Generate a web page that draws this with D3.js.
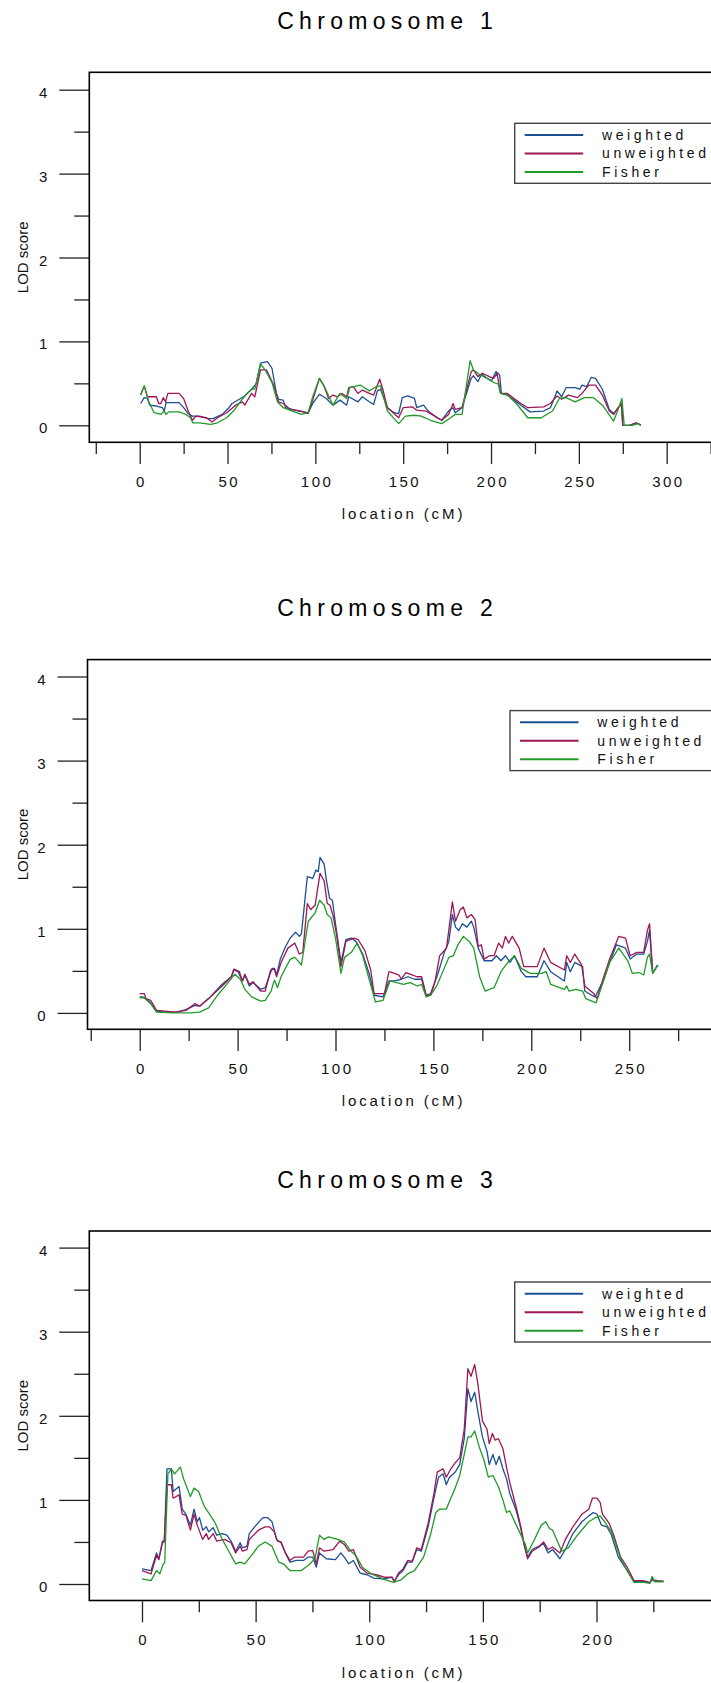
<!DOCTYPE html>
<html>
<head>
<meta charset="utf-8">
<script src="https://cdn.jsdelivr.net/npm/d3@7"></script>
<style>
  html, body { margin: 0; padding: 0; background: #fff; }
  svg { display: block; }
</style>
</head>
<body>
<svg id="chart" width="711" height="1683"></svg>
<script>
// ---------------- DATA ----------------
const seriesNames = ["weighted", "unweighted", "Fisher"];
const chromosomeTitles = ["Chromosome 1", "Chromosome 2", "Chromosome 3"];
const yMajorTicks = [0, 1, 2, 3, 4];
const yMinorTicks = [0.5, 1.5, 2.5, 3.5];
const xMajorTicks1 = [0, 50, 100, 150, 200, 250, 300];
const xMinorTicks1 = [-25, 25, 75, 125, 175, 225, 275, 325];
const xMajorTicks2 = [0, 50, 100, 150, 200, 250];
const xMinorTicks2 = [-25, 25, 75, 125, 175, 225, 275];
const xMajorTicks3 = [0, 50, 100, 150, 200];
const xMinorTicks3 = [25, 75, 125, 175, 225];

// [location cM, LOD]
const chr1Weighted = [[0.5,0.26],[2.6,0.33],[4.4,0.32],[5.7,0.24],[9.5,0.23],[12.9,0.21],[14,0.17],[15,0.27],[22.4,0.27],[25,0.21],[27.6,0.14],[30,0.11],[34,0.11],[39,0.08],[41.7,0.08],[47,0.13],[50.8,0.21],[52.6,0.26],[56.7,0.31],[59.8,0.35],[63.7,0.43],[66.2,0.49],[68.8,0.74],[72.7,0.76],[75.3,0.68],[77.8,0.38],[79.1,0.31],[81.7,0.30],[83,0.21],[90.7,0.17],[95.9,0.15],[98.5,0.26],[102.3,0.37],[106.2,0.32],[110,0.24],[114,0.30],[117.8,0.24],[119,0.34],[124.2,0.28],[126.8,0.34],[130.7,0.28],[133.2,0.25],[135.3,0.41],[137.1,0.43],[141,0.21],[144.8,0.15],[147.4,0.14],[149.5,0.33],[152.6,0.35],[156.4,0.32],[157.7,0.21],[161.6,0.24],[164.2,0.17],[169.3,0.09],[171.9,0.06],[175.8,0.17],[178.4,0.21],[179.6,0.15],[183.5,0.21],[188.7,0.56],[190,0.59],[192.5,0.52],[194.6,0.61],[197.7,0.56],[200.3,0.53],[202.8,0.64],[204.9,0.60],[205.9,0.38],[209.3,0.36],[213.1,0.30],[217,0.24],[222.2,0.16],[229.9,0.17],[233.8,0.21],[237.6,0.41],[240.2,0.34],[242.8,0.45],[247.9,0.45],[250.5,0.43],[251.8,0.48],[254.4,0.46],[257,0.57],[259.5,0.56],[263.4,0.43],[267.3,0.19],[269.8,0.14],[272.4,0.21],[274.2,0.26],[275,0.0],[278.9,0.0],[282.7,0.03],[285.3,0.0]];
const chr1Unweighted = [[0.5,0.36],[2.6,0.47],[4.4,0.34],[9.5,0.34],[10.8,0.26],[12.1,0.26],[13.4,0.33],[14.7,0.28],[16,0.38],[22.4,0.38],[25,0.32],[27.6,0.17],[30,0.06],[32,0.11],[38,0.09],[41.2,0.04],[44.3,0.09],[49.5,0.15],[54.6,0.24],[58.5,0.28],[59.8,0.24],[63.7,0.38],[65.5,0.34],[68.8,0.66],[72.2,0.66],[76.5,0.47],[79.1,0.28],[81.7,0.26],[85.6,0.19],[92,0.17],[95.9,0.14],[98.5,0.30],[102.3,0.56],[104.9,0.47],[107.5,0.32],[110,0.36],[112.6,0.34],[115.2,0.38],[117.8,0.34],[119,0.45],[121.6,0.46],[124.2,0.38],[126.8,0.42],[130.7,0.38],[133.2,0.36],[136.6,0.55],[138.4,0.43],[141,0.21],[144.8,0.14],[147.4,0.09],[150,0.21],[155.2,0.22],[157.7,0.18],[162.9,0.17],[168,0.11],[171.9,0.06],[175.8,0.13],[178.4,0.26],[179.6,0.19],[183.5,0.21],[188.7,0.64],[190,0.66],[192.5,0.58],[195.1,0.62],[199,0.58],[201.5,0.56],[203.4,0.62],[205.4,0.38],[209.3,0.38],[213.1,0.32],[217,0.26],[220.9,0.21],[229.9,0.22],[233.8,0.26],[237.6,0.35],[240.2,0.31],[244.1,0.36],[249.2,0.33],[251.8,0.38],[255.7,0.48],[259.5,0.48],[263.4,0.36],[267.3,0.17],[269.8,0.13],[272.4,0.21],[274.2,0.26],[275,0.0],[278.9,0.0],[282.7,0.03],[285.3,0.0]];
const chr1Fisher = [[0.5,0.36],[2.6,0.47],[5.2,0.28],[8.2,0.15],[12.1,0.13],[13.9,0.17],[14.9,0.13],[16.5,0.16],[22.4,0.16],[26.3,0.13],[28.9,0.09],[30.2,0.03],[34,0.03],[40.5,0.01],[44.3,0.03],[49.5,0.09],[53.4,0.17],[57.2,0.28],[61.1,0.38],[63.7,0.43],[65.5,0.43],[68.8,0.73],[71.4,0.66],[75.3,0.51],[78.4,0.28],[81.7,0.21],[86.9,0.17],[92,0.13],[95.9,0.15],[98.5,0.34],[102.3,0.56],[104.9,0.47],[110,0.24],[114,0.38],[117.8,0.32],[119.6,0.45],[125.5,0.48],[130.7,0.41],[134.5,0.46],[137.1,0.47],[141,0.17],[144.8,0.08],[147.4,0.02],[151.3,0.11],[156.4,0.12],[160.3,0.11],[165.5,0.06],[171.9,0.02],[177,0.09],[179.6,0.13],[183.5,0.13],[188.1,0.77],[190,0.66],[193.8,0.60],[197.7,0.56],[201.5,0.51],[204.1,0.49],[205.4,0.38],[209.3,0.36],[214.4,0.26],[220.9,0.09],[228.6,0.09],[235,0.17],[238.9,0.32],[242.8,0.33],[247.9,0.28],[253.1,0.33],[258.2,0.33],[263.4,0.24],[269.8,0.05],[272.4,0.19],[274.5,0.32],[275.8,0.0],[280.2,0.0],[284,0.02],[285.3,0.0]];

const chr2Weighted = [[0,0.19],[1.6,0.19],[5.1,0.13],[8.6,0.02],[13.2,0.01],[19,0.01],[23.6,0.04],[28.2,0.09],[30.6,0.08],[35.2,0.17],[42.1,0.34],[46.8,0.43],[48.1,0.51],[50.2,0.49],[52.5,0.38],[53.7,0.45],[56,0.32],[57.9,0.36],[61.8,0.28],[64.1,0.30],[67.6,0.53],[68.8,0.53],[69.9,0.45],[71.8,0.64],[74.5,0.79],[76.9,0.89],[79.6,0.96],[81.5,0.91],[82.6,0.94],[85.6,1.62],[88.4,1.60],[90,1.70],[91.2,1.68],[92.1,1.85],[94.2,1.77],[95.4,1.57],[97,1.36],[98.4,1.34],[100,1.06],[102.8,0.60],[105.3,0.87],[108.1,0.89],[110.4,0.85],[113.9,0.70],[117.4,0.45],[119.7,0.21],[124.3,0.19],[127.3,0.38],[130.1,0.38],[133.6,0.40],[137,0.43],[140.5,0.40],[144,0.40],[146.3,0.21],[148.6,0.23],[152.1,0.45],[155.6,0.72],[157.9,0.85],[159.7,1.17],[161.3,1.02],[163,0.98],[164.8,1.06],[167.1,1.02],[169.4,1.09],[170.6,1.02],[172.9,0.77],[175.9,0.62],[179.9,0.62],[182.2,0.68],[184.5,0.62],[186.8,0.68],[189.1,0.60],[191.4,0.68],[194.9,0.49],[197.2,0.43],[203,0.43],[206.5,0.62],[209.9,0.49],[216.9,0.38],[218.1,0.60],[219.9,0.49],[222.2,0.60],[226.2,0.55],[227.3,0.26],[230.8,0.21],[232.6,0.19],[236.6,0.38],[240,0.60],[243.5,0.81],[245.8,0.79],[248.1,0.77],[250.5,0.64],[253.9,0.70],[257.4,0.70],[259.3,0.85],[260.4,0.98],[262,0.47],[264.4,0.57]];
const chr2Unweighted = [[0,0.23],[2.3,0.23],[3.2,0.17],[5.6,0.15],[8.6,0.03],[13.2,0.02],[17.8,0.01],[23.6,0.03],[28.2,0.11],[30.6,0.08],[35.2,0.17],[42.1,0.32],[46.8,0.43],[48.1,0.52],[50.9,0.49],[52.5,0.38],[53.7,0.46],[56,0.34],[57.9,0.37],[61.8,0.26],[64.1,0.26],[66.9,0.51],[68.8,0.52],[69.9,0.43],[72.2,0.60],[75.7,0.77],[79.2,0.83],[81.5,0.70],[83.3,0.72],[85.6,1.30],[87.3,1.23],[89.6,1.28],[90.7,1.45],[92.1,1.66],[94.2,1.57],[95.8,1.30],[97.2,1.28],[98.8,1.15],[100.5,0.94],[102.8,0.55],[105.3,0.85],[109.3,0.89],[111.6,0.87],[115,0.74],[118,0.51],[119.7,0.23],[125,0.23],[127.3,0.49],[130.1,0.47],[132.4,0.45],[133.6,0.40],[135.9,0.48],[139.4,0.45],[141.7,0.43],[144,0.43],[146.3,0.21],[148.6,0.21],[150.9,0.38],[153.2,0.68],[156.7,0.77],[159.7,1.32],[161.3,1.09],[163.7,1.23],[165.3,1.26],[167.1,1.13],[169.4,1.17],[171.3,1.11],[172.9,0.79],[174.5,0.81],[175.9,0.64],[178.7,0.68],[181,0.68],[183.3,0.83],[185.2,0.77],[186.8,0.91],[188.4,0.83],[190.3,0.91],[193.8,0.77],[196.1,0.55],[203,0.55],[206.5,0.77],[209.9,0.60],[216.9,0.51],[218.1,0.68],[219.9,0.60],[222.2,0.70],[225.7,0.57],[227.3,0.32],[231.9,0.23],[233.6,0.17],[236.6,0.40],[240,0.64],[244.7,0.91],[248.1,0.89],[250.5,0.68],[253.9,0.72],[257.4,0.72],[259.3,0.98],[260.4,1.06],[262,0.47]];
const chr2Fisher = [[0,0.18],[2.3,0.18],[5.6,0.11],[8.6,0.01],[16.7,0],[25.9,0],[30.6,0.01],[35.2,0.06],[39.8,0.21],[44.4,0.34],[48.6,0.46],[51.4,0.40],[53.7,0.28],[57.2,0.19],[61.8,0.14],[64.1,0.15],[67.1,0.26],[68.8,0.39],[70.4,0.30],[72.2,0.43],[76.9,0.64],[79.2,0.66],[81.5,0.60],[82.6,0.57],[86.1,1.09],[89.6,1.19],[91.9,1.34],[94.2,1.28],[95.8,1.17],[97.7,1.13],[100,0.89],[102.8,0.47],[104.6,0.66],[108.1,0.72],[111.1,0.83],[113.9,0.68],[117.4,0.38],[120.4,0.13],[124.3,0.15],[127.8,0.38],[131.3,0.36],[134.7,0.34],[138.2,0.36],[141.7,0.32],[144,0.34],[146.3,0.19],[148.6,0.21],[152.1,0.34],[154.4,0.47],[157.9,0.66],[160.2,0.68],[162.5,0.81],[165.3,0.91],[168.3,0.85],[170.6,0.77],[173.6,0.43],[176.4,0.26],[181,0.30],[184.5,0.49],[188,0.60],[191.4,0.68],[194.9,0.53],[199.5,0.47],[205.3,0.47],[207.6,0.49],[209.9,0.34],[216.9,0.28],[218.1,0.32],[219.2,0.26],[222.7,0.28],[226.2,0.26],[227.8,0.17],[233.1,0.12],[236.6,0.36],[240,0.60],[244.7,0.77],[249.3,0.62],[251.6,0.47],[255.1,0.48],[257.4,0.45],[259.3,0.66],[260.4,0.70],[262,0.47],[264.8,0.57]];

const chr3Weighted = [[0,0.18],[4,0.16],[6.4,0.37],[7.4,0.30],[9,0.49],[9.8,0.50],[11,1.37],[12.9,1.37],[13.7,1.10],[16.3,1.16],[17.7,0.89],[19.3,0.83],[21.3,0.70],[22.9,0.89],[24.3,0.74],[25.3,0.79],[26.7,0.64],[28.3,0.68],[29.3,0.62],[31.3,0.67],[32.9,0.58],[35.3,0.60],[37.3,0.58],[39.2,0.51],[41.2,0.39],[43.2,0.49],[44.2,0.43],[46.2,0.45],[47.2,0.60],[50.2,0.70],[53.2,0.79],[55.2,0.79],[57.2,0.74],[59.2,0.53],[61.2,0.49],[63.1,0.37],[65.1,0.26],[68.1,0.28],[71.1,0.28],[73.1,0.32],[75.1,0.32],[76.7,0.20],[78.1,0.37],[81.1,0.30],[85.1,0.29],[87.5,0.37],[89,0.32],[91,0.24],[93,0.28],[96,0.13],[99,0.11],[102,0.07],[106,0.06],[110,0.08],[111,0.03],[112.9,0.11],[114.9,0.16],[116.9,0.26],[118.9,0.26],[120.9,0.41],[122.9,0.39],[125.9,0.68],[128.9,1.08],[130.5,1.27],[132.5,1.31],[133.9,1.18],[135.3,1.27],[137.8,1.33],[139.8,1.42],[141.8,1.73],[143.4,2.32],[144.8,2.17],[146.4,2.28],[147.8,2.05],[149.8,1.75],[151.8,1.58],[152.8,1.42],[154.4,1.54],[155.8,1.42],[157.2,1.52],[158.8,1.37],[160.4,1.25],[161.8,1.08],[164.7,0.87],[166.7,0.66],[168.3,0.45],[169.7,0.32],[171.7,0.41],[174.7,0.45],[176.7,0.48],[178.7,0.37],[180.7,0.41],[183.9,0.30],[186.7,0.43],[189.6,0.60],[193.6,0.74],[196.6,0.81],[198.6,0.85],[200.2,0.83],[202.2,0.70],[204.6,0.68],[206.6,0.58],[209.6,0.32],[212.5,0.20],[216.5,0.03],[220.5,0.03],[223.5,0.01],[224.5,0.07],[225.5,0.03],[229.5,0.03]];
const chr3Unweighted = [[0,0.16],[4,0.12],[6.4,0.34],[7.4,0.29],[9,0.51],[9.8,0.51],[11,1.18],[12.9,1.18],[13.7,1.02],[16.3,1.06],[17.7,0.83],[19.3,0.82],[21.3,0.64],[22.9,0.83],[24.3,0.70],[26.7,0.53],[28.3,0.60],[29.3,0.53],[31.3,0.60],[32.9,0.51],[36.3,0.53],[39.2,0.49],[41.2,0.37],[43.2,0.45],[44.2,0.39],[46.2,0.41],[47.2,0.53],[51.2,0.64],[54.2,0.68],[56.2,0.68],[58.2,0.62],[59.6,0.51],[61.2,0.50],[63.1,0.37],[65.1,0.28],[67.1,0.32],[71.1,0.32],[73.1,0.39],[75.1,0.40],[76.7,0.24],[78.1,0.43],[80.1,0.39],[84.1,0.41],[87,0.51],[89,0.47],[91,0.39],[93,0.41],[96,0.20],[99,0.13],[103,0.11],[107,0.08],[110,0.08],[111,0.03],[112.9,0.13],[114.9,0.18],[116.9,0.28],[118.9,0.27],[120.9,0.43],[122.9,0.41],[125.9,0.72],[128.5,1.08],[129.9,1.33],[132.5,1.37],[133.9,1.27],[135.9,1.37],[137.8,1.44],[139.8,1.50],[141.8,1.84],[143.4,2.56],[144.8,2.47],[146.4,2.61],[147.8,2.38],[149.8,1.94],[151.8,1.84],[152.8,1.67],[154.2,1.79],[155.4,1.71],[156.8,1.73],[158.8,1.61],[160.4,1.39],[161.8,1.21],[164.7,0.91],[166.7,0.68],[168.3,0.45],[169.7,0.30],[171.7,0.39],[174.7,0.44],[176.7,0.50],[178.7,0.41],[180.7,0.44],[183.9,0.37],[186.3,0.53],[189.6,0.68],[193.6,0.83],[196.6,0.89],[198.2,1.02],[200.2,1.02],[201.6,0.97],[202.6,0.83],[205.6,0.72],[207.6,0.58],[210.6,0.32],[213.5,0.20],[216.5,0.04],[220.5,0.04],[223.5,0.02],[224.5,0.05],[229.5,0.03]];
const chr3Fisher = [[0,0.06],[4,0.04],[6.4,0.16],[7.8,0.12],[9.4,0.24],[10,0.25],[11.4,1.31],[12.9,1.37],[14.3,1.31],[16.9,1.39],[18.3,1.25],[21.3,1.04],[22.9,1.14],[24.9,1.10],[27.3,0.93],[29.7,0.83],[32.3,0.72],[35.3,0.53],[38.2,0.39],[41.2,0.24],[43.2,0.26],[45.2,0.24],[48.2,0.34],[51.2,0.45],[54.2,0.50],[57.2,0.45],[60.2,0.26],[62.2,0.24],[65.1,0.16],[70.1,0.16],[73.1,0.22],[76.1,0.30],[78.1,0.58],[80.1,0.53],[82.1,0.56],[86.1,0.53],[89,0.50],[92,0.39],[94,0.34],[97,0.20],[101,0.12],[106,0.06],[110.6,0.02],[114,0.05],[116.9,0.12],[119.9,0.16],[123.9,0.32],[126.9,0.58],[129.3,0.85],[130.9,0.89],[133.9,0.89],[135.9,1.02],[137.8,1.14],[139.8,1.29],[141.8,1.54],[143.4,1.75],[144.8,1.75],[146.4,1.82],[148.4,1.63],[150.4,1.48],[152.4,1.27],[154.4,1.29],[156.8,1.16],[158.8,1.00],[160.4,0.85],[161.8,0.87],[164.7,0.70],[168.7,0.47],[169.7,0.37],[172.7,0.53],[175.7,0.70],[177.7,0.74],[179.3,0.66],[180.7,0.64],[184.7,0.39],[187.6,0.43],[191.6,0.58],[196.6,0.74],[199.6,0.79],[201.6,0.81],[203.6,0.74],[206.6,0.62],[210.6,0.30],[213.5,0.16],[216.5,0.02],[220.5,0.02],[223.5,0.01],[224.5,0.09],[225.5,0.03],[229.5,0.03]];

// ---------------- LAYOUT / STYLE ----------------
const FONT = "'Liberation Sans', Arial, Helvetica, sans-serif";
const colors = ["#1d4f91", "#9e1755", "#209a28"];
const panels = [
  { title: chromosomeTitles[0], series: [chr1Weighted, chr1Unweighted, chr1Fisher],
    xMaj: xMajorTicks1, xMin: xMinorTicks1,
    left: 89.3, top: 72.3, bottom: 442.3,
    xd: [0, 300], xr: [139.7, 666.7], yr: [425.3, 89.7],
    legX: 514.7 },
  { title: chromosomeTitles[1], series: [chr2Weighted, chr2Unweighted, chr2Fisher],
    xMaj: xMajorTicks2, xMin: xMinorTicks2,
    left: 87.5, top: 659.6, bottom: 1029.3,
    xd: [0, 250], xr: [139.7, 629.2], yr: [1012.9, 676.5],
    legX: 510 },
  { title: chromosomeTitles[2], series: [chr3Weighted, chr3Unweighted, chr3Fisher],
    xMaj: xMajorTicks3, xMin: xMinorTicks3,
    left: 89.3, top: 1231, bottom: 1600.5,
    xd: [0, 200], xr: [142, 596.5], yr: [1584, 1247.6],
    legX: 514.7 }
];

const svg = d3.select("#chart");
const W = 711;
const boxRight = 740;

panels.forEach(p => {
  const g = svg.append("g");
  const x = d3.scaleLinear().domain(p.xd).range(p.xr);
  const y = d3.scaleLinear().domain([0, 4]).range(p.yr);

  // title
  g.append("text")
    .attr("x", 385 + 2.6).attr("y", p.top - 43.5)
    .attr("text-anchor", "middle")
    .attr("font-family", FONT).attr("font-size", 23)
    .attr("letter-spacing", "5.3px")
    .attr("fill", "#000")
    .text(p.title);

  // y axis (majors + minors)
  const yMaj = g.append("g").attr("transform", `translate(${p.left},0)`)
    .call(d3.axisLeft(y).tickValues(yMajorTicks).tickSize(30).tickPadding(12).tickFormat(d3.format("d")));
  const yMin = g.append("g").attr("transform", `translate(${p.left},0)`)
    .call(d3.axisLeft(y).tickValues(yMinorTicks).tickSize(15).tickFormat(""));

  // x axis (majors + minors)
  const inside = v => x(v) >= p.left && x(v) <= W;
  const xMaj = g.append("g").attr("transform", `translate(0,${p.bottom + 0.8})`)
    .call(d3.axisBottom(x).tickValues(p.xMaj.filter(inside)).tickSize(21).tickPadding(12).tickFormat(d3.format("d")));
  const xMin = g.append("g").attr("transform", `translate(0,${p.bottom + 0.8})`)
    .call(d3.axisBottom(x).tickValues(p.xMin.filter(inside)).tickSize(11).tickFormat(""));

  [yMaj, yMin, xMaj, xMin].forEach(a => {
    a.select(".domain").remove();
    a.selectAll(".tick line").attr("stroke", "#222").attr("stroke-width", 1.3);
    a.selectAll(".tick text").attr("font-family", FONT).attr("font-size", 15).attr("fill", "#111");
  });
  yMaj.selectAll(".tick text").attr("dy", "0.5em");
  xMaj.selectAll(".tick text").attr("letter-spacing", "2.5px").attr("dx", "1.25px");

  // data lines
  const line = d3.line().x(d => x(d[0])).y(d => y(d[1]));
  p.series.forEach((s, i) => {
    g.append("path").datum(s)
      .attr("d", line)
      .attr("fill", "none")
      .attr("stroke", colors[i])
      .attr("stroke-width", 1.3)
      .attr("stroke-linejoin", "round");
  });

  // box
  g.append("rect")
    .attr("x", p.left).attr("y", p.top)
    .attr("width", boxRight - p.left).attr("height", p.bottom - p.top)
    .attr("fill", "none").attr("stroke", "#000").attr("stroke-width", 1.6);

  // axis labels
  g.append("text")
    .attr("transform", `translate(22,${(p.top + p.bottom) / 2}) rotate(-90)`)
    .attr("text-anchor", "middle").attr("dominant-baseline", "central")
    .attr("font-family", FONT).attr("font-size", 15).attr("fill", "#111")
    .text("LOD score");
  g.append("text")
    .attr("x", 402 + 1.5).attr("y", p.bottom + 77)
    .attr("text-anchor", "middle")
    .attr("font-family", FONT).attr("font-size", 15).attr("fill", "#111")
    .attr("letter-spacing", "2.9px")
    .text("location (cM)");

  // legend
  const lg = g.append("g").attr("transform", `translate(${p.legX},${p.top + 51})`);
  lg.append("rect").attr("x", 0).attr("y", 0).attr("width", 240).attr("height", 60)
    .attr("fill", "#fff").attr("stroke", "#444").attr("stroke-width", 1.4);
  seriesNames.forEach((n, i) => {
    const ly = 11.7 + i * 18.5;
    lg.append("line").attr("x1", 10).attr("x2", 68.5).attr("y1", ly).attr("y2", ly)
      .attr("stroke", colors[i]).attr("stroke-width", 2);
    lg.append("text").attr("x", 87.3).attr("y", ly + 4.8)
      .attr("font-family", FONT).attr("font-size", 14).attr("fill", "#111")
      .attr("letter-spacing", "3.6px")
      .text(n);
  });
});
</script>
</body>
</html>
